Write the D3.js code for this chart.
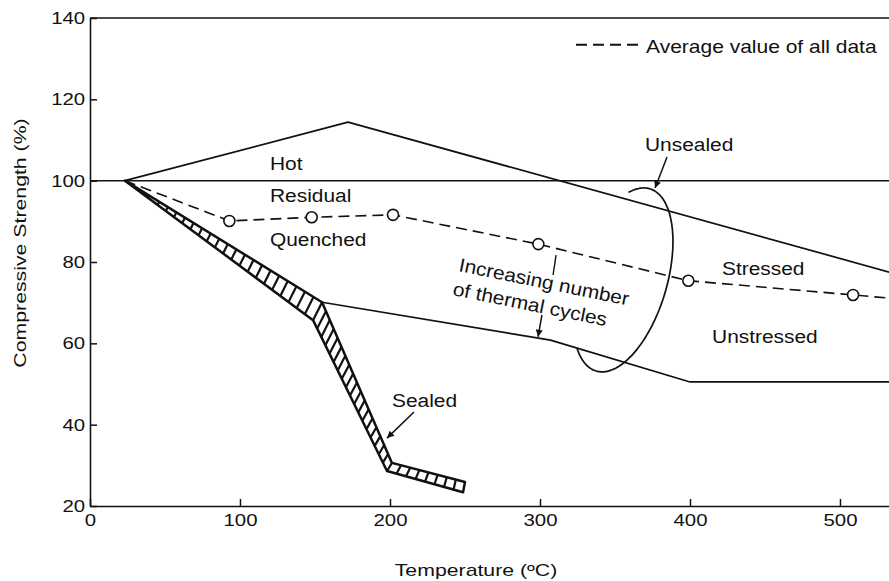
<!DOCTYPE html>
<html>
<head>
<meta charset="utf-8">
<script src="https://cdn.jsdelivr.net/npm/d3@7"></script>
<style>
  html, body { margin: 0; padding: 0; background: #fff; }
  svg { display: block; font-family: "Liberation Sans", Arial, Helvetica, sans-serif; }
</style>
</head>
<body>
<div id="chart"></div>
<script>
// values: temperature (°C) vs compressive strength (%)
const xTicks = [0, 100, 200, 300, 400, 500];
const yTicks = [20, 40, 60, 80, 100, 120, 140];

// hot / residual boundary
const refTemp = [0, 533];
const refStrength = [100, 100];

// unsealed, upper (hot) boundary
const hotTemp = [23.3, 172, 533];
const hotStrength = [100, 114.4, 77.5];

// unsealed, lower (unstressed) boundary
const lowTemp = [154.7, 307, 400, 533];
const lowStrength = [70.1, 60.8, 50.5, 50.5];

// average of all data (dashed)
const avgTemp = [23.3, 92.9, 147.8, 202, 298.9, 398.9, 508.7, 533];
const avgStrength = [100, 90.1, 91.0, 91.6, 84.4, 75.4, 71.9, 71.1];
const avgMarked = [1, 2, 3, 4, 5, 6]; // indices drawn with open circles

// sealed band (hatched)
const sealUpTemp = [23.3, 154.7, 201.3, 250];
const sealUpStrength = [100, 70.1, 30.6, 25.9];
const sealLoTemp = [23.3, 148.7, 198, 248.7];
const sealLoStrength = [100, 65.7, 28.6, 23.4];

// text labels [text, temp, strength]
const labels = [
  ["Hot", 120, 102.6],
  ["Residual", 120, 94.8],
  ["Quenched", 120, 83.9],
  ["Unsealed", 370, 107.3],
  ["Stressed", 421.3, 76.8],
  ["Unstressed", 414.7, 60.1],
  ["Sealed", 201.3, 44.3]
];
const cycleLabels = [
  ["Increasing number", 245.3, 77.8],
  ["of thermal cycles", 241.3, 71.9]
];

// arrows [fromTemp, fromStrength, toTemp, toStrength]
const arrows = [
  [384.7, 105.8, 376.7, 98.2],
  [216, 43.1, 198, 36.7],
  [301.3, 67, 298.7, 61.6]
];

(function () {
  const W = 889, H = 581;
  const svg = d3.select("#chart").append("svg")
    .attr("width", W).attr("height", H);

  const x = d3.scaleLinear().domain([0, 533]).range([90, 889.5]);
  const y = d3.scaleLinear().domain([20, 140]).range([506, 18]);
  const ink = "#111";

  svg.append("defs").append("marker")
    .attr("id", "head")
    .attr("viewBox", "0 0 10 10")
    .attr("refX", 10).attr("refY", 5)
    .attr("markerUnits", "userSpaceOnUse")
    .attr("markerWidth", 11).attr("markerHeight", 7)
    .attr("orient", "auto")
    .append("path").attr("d", "M0,0L10,5L0,10z").attr("fill", ink);

  // axes
  const xAxis = svg.append("g")
    .attr("transform", `translate(0,${y(20)})`)
    .call(d3.axisBottom(x).tickValues(xTicks).tickSizeInner(-7).tickSizeOuter(0).tickPadding(8));
  const yAxis = svg.append("g")
    .attr("transform", `translate(${x(0)},0)`)
    .call(d3.axisLeft(y).tickValues(yTicks).tickSizeInner(-7).tickSizeOuter(0).tickPadding(4));
  [xAxis, yAxis].forEach(g => {
    g.attr("color", ink);
    g.select(".domain").attr("stroke-width", 1.6);
    g.selectAll(".tick line").attr("stroke-width", 1.5);
    g.selectAll(".tick text")
      .attr("font-size", 17)
      .attr("font-family", "Liberation Sans, Arial, sans-serif")
      .attr("transform", "scale(1.2,1)");
  });
  // top frame line
  svg.append("line")
    .attr("x1", x(0)).attr("x2", x(533))
    .attr("y1", y(140)).attr("y2", y(140))
    .attr("stroke", ink).attr("stroke-width", 1.6);

  const line = d3.line().x(d => x(d[0])).y(d => y(d[1]));
  const pts = (t, v) => t.map((d, i) => [d, v[i]]);

  function path(data, opts = {}) {
    svg.append("path")
      .datum(data)
      .attr("fill", "none")
      .attr("stroke", ink)
      .attr("stroke-width", opts.w || 1.7)
      .attr("stroke-dasharray", opts.dash || null)
      .attr("stroke-linejoin", "round")
      .attr("d", line);
  }

  path(pts(refTemp, refStrength), { w: 1.5 });
  path(pts(hotTemp, hotStrength));
  path(pts(lowTemp, lowStrength));

  // sealed band with hatching
  const up = pts(sealUpTemp, sealUpStrength);
  const lo = pts(sealLoTemp, sealLoStrength);
  const hatch = [];
  for (let i = 0; i < up.length - 1; i++) {
    const a0 = [x(up[i][0]), y(up[i][1])], a1 = [x(up[i + 1][0]), y(up[i + 1][1])];
    const b0 = [x(lo[i][0]), y(lo[i][1])], b1 = [x(lo[i + 1][0]), y(lo[i + 1][1])];
    const len = Math.max(Math.hypot(a1[0] - a0[0], a1[1] - a0[1]), Math.hypot(b1[0] - b0[0], b1[1] - b0[1]));
    const n = Math.max(1, Math.round(len / 10));
    for (let k = (i === 0 ? 4 : 0); k < n; k++) {
      const t = k / n;
      hatch.push([
        [a0[0] + (a1[0] - a0[0]) * t, a0[1] + (a1[1] - a0[1]) * t],
        [b0[0] + (b1[0] - b0[0]) * t, b0[1] + (b1[1] - b0[1]) * t]
      ]);
    }
  }
  svg.append("g").selectAll("line").data(hatch).join("line")
    .attr("x1", d => d[0][0]).attr("y1", d => d[0][1])
    .attr("x2", d => d[1][0]).attr("y2", d => d[1][1])
    .attr("stroke", ink).attr("stroke-width", 2.2);
  svg.append("path")
    .datum(up.concat(lo.slice().reverse()))
    .attr("fill", "none").attr("stroke", ink)
    .attr("stroke-width", 2.5).attr("stroke-linejoin", "round")
    .attr("d", d => line(d) + "Z");

  // average line
  const avg = pts(avgTemp, avgStrength);
  path(avg, { dash: "11,6", w: 1.6 });
  svg.append("g").selectAll("circle").data(avgMarked.map(i => avg[i])).join("circle")
    .attr("cx", d => x(d[0])).attr("cy", d => y(d[1]))
    .attr("r", 5.5)
    .attr("fill", "#fff").attr("stroke", ink).attr("stroke-width", 1.6);

  // ellipse marking the thermal-cycle spread (left side inside band not drawn)
  const ell = { t: 355.3, v: 75.6, a: 95, b: 44, tilt: 16.4, from: -116, to: 125 };
  const th = ell.tilt * Math.PI / 180;
  const cx = x(ell.t), cy = y(ell.v);
  const ellPts = d3.range(ell.from, ell.to + 0.5, 2).map(deg => {
    const r = deg * Math.PI / 180;
    const lx = ell.b * Math.cos(r), ly = ell.a * Math.sin(r);
    return [cx + lx * Math.cos(th) - ly * Math.sin(th), cy + lx * Math.sin(th) + ly * Math.cos(th)];
  });
  svg.append("path")
    .attr("d", d3.line().curve(d3.curveBasis)(ellPts))
    .attr("fill", "none").attr("stroke", ink).attr("stroke-width", 1.7);

  // arrows
  svg.append("g").selectAll("line").data(arrows).join("line")
    .attr("x1", d => x(d[0])).attr("y1", d => y(d[1]))
    .attr("x2", d => x(d[2])).attr("y2", d => y(d[3]))
    .attr("stroke", ink).attr("stroke-width", 1.5)
    .attr("marker-end", "url(#head)");
  // small tick between average line and cycles text
  svg.append("line")
    .attr("x1", x(310.7)).attr("y1", y(81.7))
    .attr("x2", x(308.7)).attr("y2", y(76.8))
    .attr("stroke", ink).attr("stroke-width", 1.4);

  // text
  function label(t, px, py, o = {}) {
    svg.append("text")
      .attr("transform", `translate(${px},${py}) rotate(${o.rotate || 0}) scale(${o.sx || 1.1},1)`)
      .attr("text-anchor", o.anchor || "start")
      .attr("font-size", o.size || 19)
      .attr("fill", ink)
      .text(t);
  }
  labels.forEach(d => label(d[0], x(d[1]), y(d[2])));
  cycleLabels.forEach(d => label(d[0], x(d[1]), y(d[2]), { rotate: 11.5 }));

  // legend
  svg.append("line")
    .attr("x1", x(324)).attr("x2", x(366.7))
    .attr("y1", y(133.4)).attr("y2", y(133.4))
    .attr("stroke", ink).attr("stroke-width", 2)
    .attr("stroke-dasharray", "11,6");
  label("Average value of all data", x(370.7), y(131.4), { size: 17.5, sx: 1.2 });

  // axis titles
  label("Temperature (ºC)", 476, 576, { size: 16, sx: 1.33, anchor: "middle" });
  label("Compressive Strength (%)", 26, 243, { size: 16, sx: 1.33, anchor: "middle", rotate: -90 });
})();
</script>
</body>
</html>
